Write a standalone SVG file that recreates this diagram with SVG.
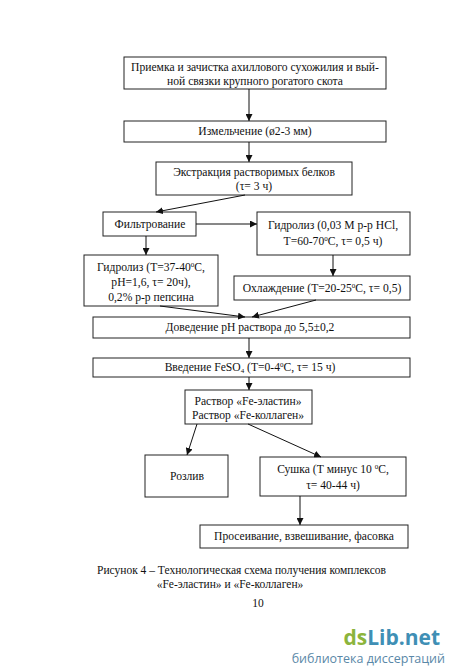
<svg xmlns="http://www.w3.org/2000/svg" width="450" height="670" viewBox="0 0 450 670">
<defs>
<marker id="ah" viewBox="0 0 10 10" refX="10" refY="5" markerWidth="7" markerHeight="7" markerUnits="userSpaceOnUse" orient="auto">
<path d="M0,0 L10,5 L0,10 z" fill="#111"/>
</marker>
<style>
.b{fill:#fff;stroke:#222;stroke-width:1}
.t{font-family:"Liberation Serif","Times New Roman",serif;font-size:11.6px;fill:#111;text-anchor:middle}
.c{stroke:#111;stroke-width:1;fill:none;marker-end:url(#ah)}
.sup{font-size:7px}
.cap{font-family:"Liberation Serif","Times New Roman",serif;font-size:11.5px;fill:#111}
</style>
</defs>
<rect width="450" height="670" fill="#fff"/>
<g id="n1"><rect class="b" x="124" y="57" width="262" height="32"/>
<text class="t" x="255" y="71">Приемка и зачистка ахиллового сухожилия и вый-</text>
<text class="t" x="255" y="85">ной связки крупного рогатого скота</text></g>
<g id="n2"><rect class="b" x="124" y="121" width="262" height="21"/>
<text class="t" x="255" y="135">Измельчение (ø2-3 мм)</text></g>
<g id="n3"><rect class="b" x="156" y="162" width="196" height="33"/>
<text class="t" x="254" y="176">Экстракция растворимых белков</text>
<text class="t" x="254" y="190">(τ= 3 ч)</text></g>
<g id="n4"><rect class="b" x="103" y="212" width="93" height="24"/>
<text class="t" x="150" y="228">Фильтрование</text></g>
<g id="n5"><rect class="b" x="257" y="212" width="153" height="43"/>
<text class="t" x="333" y="229">Гидролиз (0,03 М р-р HCl,</text>
<text class="t" x="333" y="245">Т=60-70<tspan class="sup" dy="-4">0</tspan><tspan dy="4">С, τ= 0,5 ч)</tspan></text></g>
<g id="n6"><rect class="b" x="84" y="255" width="134" height="51"/>
<text class="t" x="151" y="271">Гидролиз (Т=37-40<tspan class="sup" dy="-4">0</tspan><tspan dy="4">С,</tspan></text>
<text class="t" x="151" y="286">рН=1,6, τ= 20ч),</text>
<text class="t" x="151" y="301">0,2% р-р пепсина</text></g>
<g id="n7"><rect class="b" x="234" y="276" width="176" height="24"/>
<text class="t" x="322" y="292">Охлаждение (Т=20-25<tspan class="sup" dy="-4">0</tspan><tspan dy="4">С, τ= 0,5)</tspan></text></g>
<g id="n8"><rect class="b" x="93" y="317" width="317" height="21"/>
<text class="t" x="250" y="331">Доведение рН раствора до 5,5±0,2</text></g>
<g id="n9"><rect class="b" x="93" y="358" width="317" height="19"/>
<text class="t" x="250" y="371">Введение FeSO<tspan class="sup" dy="2">4</tspan><tspan dy="-2">  (Т=0-4</tspan><tspan class="sup" dy="-4">0</tspan><tspan dy="4">С, τ= 15 ч)</tspan></text></g>
<g id="n10"><rect class="b" x="185" y="390" width="127" height="34"/>
<text class="t" x="248" y="405">Раствор  «Fe-эластин»</text>
<text class="t" x="248" y="419">Раствор «Fe-коллаген»</text></g>
<g id="n11"><rect class="b" x="145" y="455" width="83" height="42"/>
<text class="t" x="187" y="480">Розлив</text></g>
<g id="n12"><rect class="b" x="260" y="457" width="146" height="39"/>
<text class="t" x="333" y="473">Сушка (Т минус 10 <tspan class="sup" dy="-4">0</tspan><tspan dy="4">С,</tspan></text>
<text class="t" x="333" y="489">τ= 40-44 ч)</text></g>
<g id="n13"><rect class="b" x="200" y="525" width="208" height="23"/>
<text class="t" x="304" y="540">Просеивание, взвешивание, фасовка</text></g>
<g id="connectors">
<line class="c" x1="249" y1="89" x2="249" y2="121"/>
<line class="c" x1="249" y1="142" x2="249" y2="162"/>
<line class="c" x1="245" y1="195" x2="156" y2="212"/>
<line class="c" x1="196" y1="224" x2="257" y2="224"/>
<line class="c" x1="146" y1="236" x2="146" y2="255"/>
<line class="c" x1="333" y1="255" x2="333" y2="276"/>
<line class="c" x1="160" y1="306" x2="245" y2="317"/>
<line class="c" x1="316" y1="300" x2="252" y2="317"/>
<line class="c" x1="249" y1="338" x2="249" y2="358"/>
<line class="c" x1="249" y1="377" x2="249" y2="390"/>
<line class="c" x1="197" y1="424" x2="187" y2="455"/>
<line class="c" x1="248" y1="424" x2="321" y2="457"/>
<line class="c" x1="300" y1="496" x2="300" y2="525"/>
</g>
<text class="cap" x="97" y="574">Рисунок 4 – Технологическая схема  получения комплексов</text>
<text class="cap" x="230" y="588" text-anchor="middle">«Fe-эластин» и «Fe-коллаген»</text>
<text class="cap" x="258" y="607" text-anchor="middle">10</text>
<text x="440" y="645" text-anchor="end" font-family="'Open Sans','DejaVu Sans',sans-serif" font-size="21" font-weight="bold"><tspan fill="#8cb43c">ds</tspan><tspan fill="#3f8fb5">Lib.net</tspan></text>
<text x="445" y="663" text-anchor="end" font-family="'Open Sans','DejaVu Sans',sans-serif" font-size="12.5" fill="#5a88a8">библиотека диссертаций</text>
</svg>
